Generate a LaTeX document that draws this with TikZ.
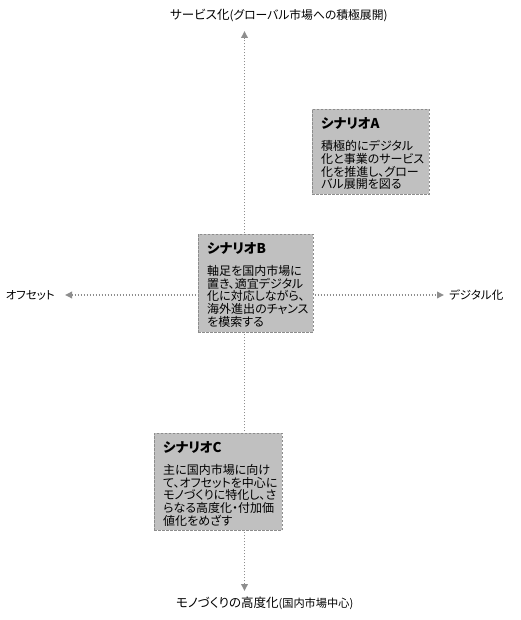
\documentclass[tikz,border=0pt]{standalone}
\usepackage{fontspec}
\setmainfont{Noto Sans CJK JP}[RawFeature={+palt}]
\usetikzlibrary{arrows.meta}
\definecolor{boxfill}{HTML}{C0C0C0}
\definecolor{boxline}{HTML}{8C8C8C}
\definecolor{axisgray}{HTML}{8E8E8E}
\begin{document}
\begin{tikzpicture}[x=1pt,y=-1pt,
  axisline/.style={draw=axisgray, line width=1.9pt, dash pattern=on 1.5pt off 1.5pt,
    {Triangle[length=7pt,width=6.5pt]}-{Triangle[length=7pt,width=6.5pt]}},
  scenbox/.style={draw=boxline, fill=boxfill, line width=0.9pt, dash pattern=on 2.5pt off 1.5pt, inner sep=0pt},
  scentitle/.style={inner sep=0pt, font=\fontsize{13.5}{15}\selectfont\bfseries},
  scenbody/.style={inner sep=0pt, align=left, font=\fontsize{12}{12.8}\selectfont},
  axislabel/.style={inner sep=0pt, font=\fontsize{11.5}{13}\selectfont}
]
\useasboundingbox[fill=white] (0,0) rectangle (520,620);

% axes
\coordinate (Ttip) at (244.5,31);
\coordinate (Btip) at (244.5,591);
\coordinate (Ltip) at (65,295);
\coordinate (Rtip) at (444,295);
\draw[axisline] (Btip) -- (Ttip);
\draw[axisline] (Ltip) -- (Rtip);

% axis labels
\node[axislabel, anchor=west] (toplabel) at (170,16)
  {{\fontsize{12.5}{14}\selectfont サービス化}{\fontsize{11.8}{13}\selectfont (グローバル市場への積極展開)}};
\node[axislabel, anchor=west] (bottomlabel) at (176,603)
  {{\fontsize{12.5}{14}\selectfont モノづくりの高度化}{\fontsize{11.2}{13}\selectfont (国内市場中心)}};
\node[axislabel, anchor=east] (leftlabel) at (55,295) {オフセット};
\node[axislabel, anchor=west] (rightlabel) at (449,295) {デジタル化};

% scenario A
\node[scenbox, minimum width=117pt, minimum height=85pt, anchor=north west] (boxA) at (312,109) {};
\node[scentitle, anchor=west] (titleA) at ([xshift=9pt,yshift=-14pt]boxA.north west) {シナリオA};
\node[scenbody, anchor=north west] (bodyA) at ([xshift=9pt,yshift=-31pt]boxA.north west)
  {積極的にデジタル\\化と事業のサービス\\化を推進し、グロー\\バル展開を図る};

% scenario B
\node[scenbox, minimum width=115pt, minimum height=98pt, anchor=north west] (boxB) at (198,234) {};
\node[scentitle, anchor=west] (titleB) at ([xshift=9pt,yshift=-14pt]boxB.north west) {シナリオB};
\node[scenbody, anchor=north west] (bodyB) at ([xshift=9pt,yshift=-31pt]boxB.north west)
  {軸足を国内市場に\\置き、適宜デジタル\\化に対応しながら、\\海外進出のチャンス\\を模索する};

% scenario C
\node[scenbox, minimum width=128pt, minimum height=97pt, anchor=north west] (boxC) at (154,433) {};
\node[scentitle, anchor=west] (titleC) at ([xshift=9pt,yshift=-14pt]boxC.north west) {シナリオC};
\node[scenbody, anchor=north west] (bodyC) at ([xshift=9pt,yshift=-31pt]boxC.north west)
  {主に国内市場に向け\\て、オフセットを中心に\\モノづくりに特化し、さ\\らなる高度化・付加価\\値化をめざす};
\end{tikzpicture}
\end{document}
